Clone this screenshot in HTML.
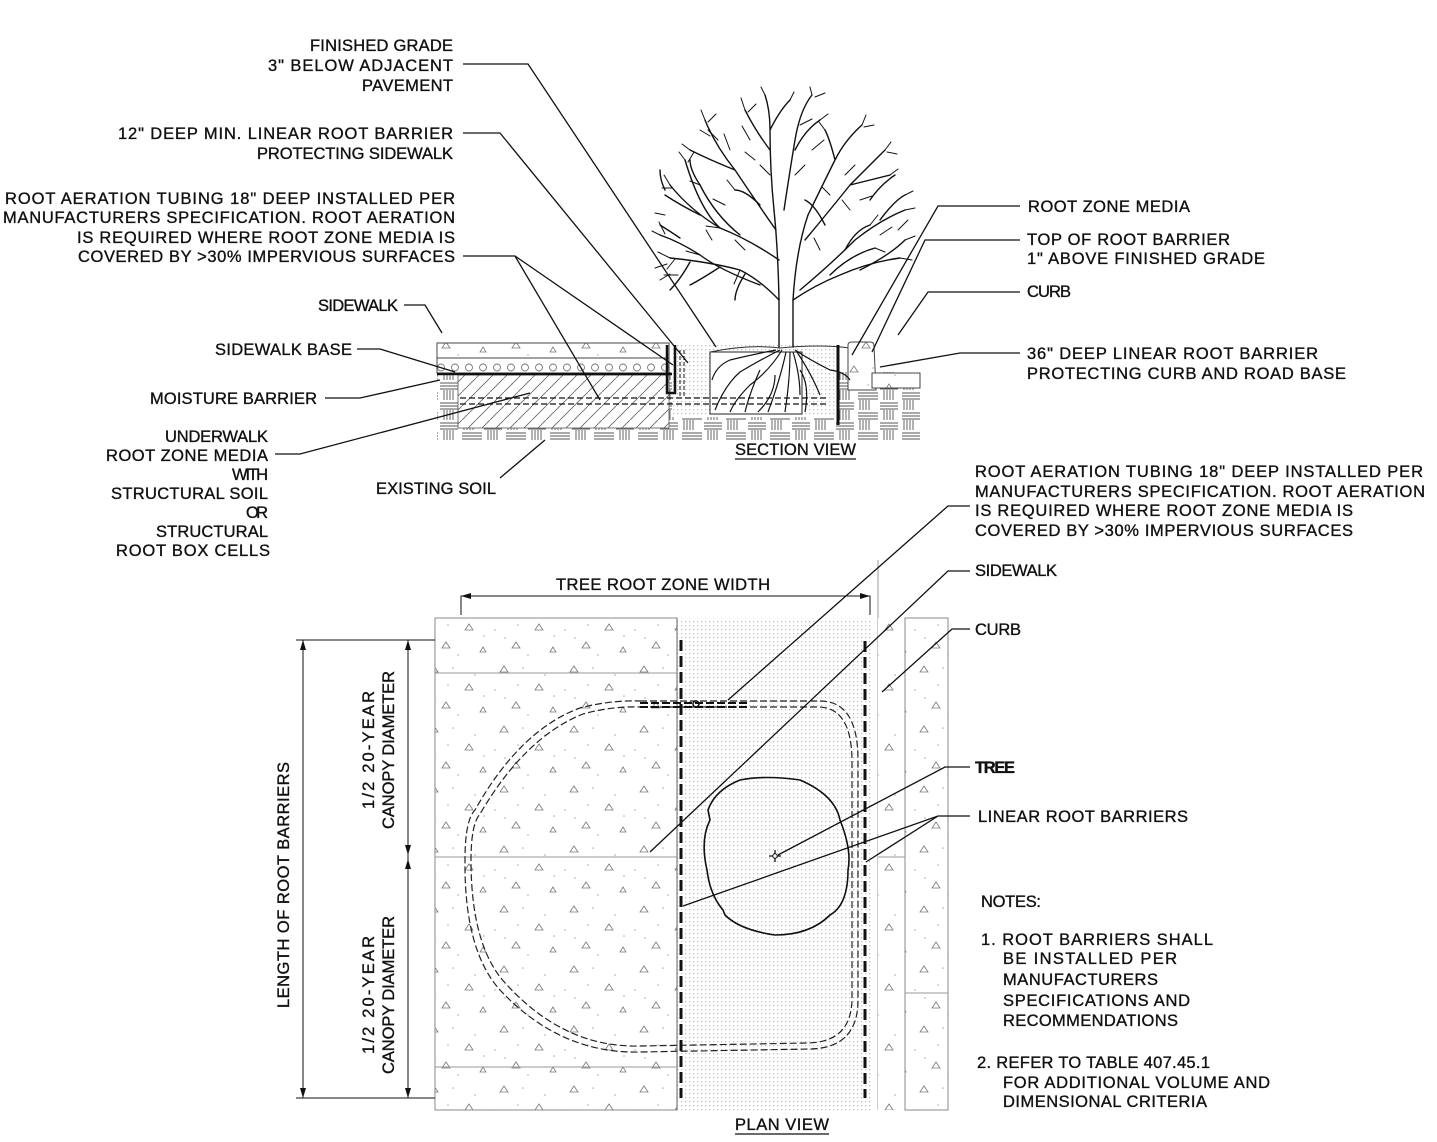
<!DOCTYPE html>
<html><head><meta charset="utf-8"><style>
html,body{margin:0;padding:0;background:#fff}
svg{display:block}
text{font-family:"Liberation Sans",sans-serif;font-size:16.5px;fill:#111;stroke:#111;stroke-width:0.35}
</style></head><body>
<svg width="1437" height="1142" viewBox="0 0 1437 1142" xmlns="http://www.w3.org/2000/svg">
<defs>
<pattern id="conc" width="70" height="60" patternUnits="userSpaceOnUse">
<rect width="70" height="60" fill="#fff"/>
<path d="M10 12l4 -6 4 6z M45 30l4 -6 4 6z M22 48l4 -6 4 6z M60 52l3 -5 3 5z" fill="none" stroke="#777" stroke-width="0.8"/>
<g fill="#aaa"><circle cx="5" cy="30" r="0.8"/><circle cx="33" cy="8" r="0.8"/><circle cx="55" cy="15" r="0.8"/><circle cx="38" cy="55" r="0.8"/><circle cx="15" cy="38" r="0.8"/><circle cx="64" cy="36" r="0.8"/><circle cx="28" cy="25" r="0.8"/></g>
</pattern>
<pattern id="dots" width="4" height="4" patternUnits="userSpaceOnUse">
<rect width="4" height="4" fill="#fff"/><rect x="1" y="1" width="1.2" height="1.2" fill="#bbb"/>
</pattern>
<pattern id="brick" width="44" height="20" patternUnits="userSpaceOnUse">
<rect width="44" height="20" fill="#fff"/>
<g stroke="#555" stroke-width="0.9" fill="none">
<path d="M0 3h18M0 6h18M0 9h18M24 0v10M27 0v10M30 0v10M33 0v10"/>
<path d="M22 13h20M22 16h20M22 19h20M4 10v10M7 10v10M10 10v10M13 10v10"/>
</g>
</pattern>
<pattern id="hatch" width="14" height="14" patternUnits="userSpaceOnUse">
<rect width="14" height="14" fill="#fff"/><path d="M0 14L14 0" stroke="#666" stroke-width="0.8"/>
</pattern>
<pattern id="gravel" width="14" height="15" patternUnits="userSpaceOnUse">
<rect width="14" height="15" fill="#fff"/><circle cx="7" cy="7.5" r="3.5" fill="none" stroke="#777" stroke-width="0.9"/>
</pattern>
</defs>

<!-- ============ SECTION VIEW ============ -->
<rect x="437" y="372" width="483" height="68" fill="url(#brick)"/>
<rect x="458" y="375" width="211" height="53" fill="url(#hatch)" stroke="#555" stroke-width="0.8"/>
<rect x="437" y="343" width="232" height="15" fill="url(#conc)" stroke="#444" stroke-width="1"/>
<rect x="437" y="358" width="232" height="15" fill="url(#gravel)" stroke="#444" stroke-width="1"/>
<line x1="437" y1="374" x2="672" y2="374" stroke="#111" stroke-width="2.5"/>
<rect x="672" y="345" width="138" height="72" fill="url(#dots)"/>
<rect x="810" y="345" width="28" height="72" fill="url(#dots)"/>
<rect x="710" y="352" width="92" height="62" fill="#fff" stroke="#222" stroke-width="1"/>
<path d="M710 352 Q750 344 780 348 Q820 344 850 348" fill="none" stroke="#333" stroke-width="1"/>
<path d="M667 345v48h8v-48" fill="none" stroke="#111" stroke-width="2.5"/>
<line x1="680" y1="350" x2="680" y2="398" stroke="#111" stroke-width="1" stroke-dasharray="4 2"/>
<line x1="684" y1="350" x2="684" y2="398" stroke="#111" stroke-width="1" stroke-dasharray="4 2"/>
<line x1="460" y1="398" x2="826" y2="398" stroke="#111" stroke-width="1.3" stroke-dasharray="6 3"/>
<line x1="460" y1="404" x2="826" y2="404" stroke="#111" stroke-width="1.3" stroke-dasharray="6 3"/>
<line x1="838" y1="345" x2="838" y2="425" stroke="#111" stroke-width="3"/>
<path d="M848 390 V345 Q848 342 852 342 H870 Q874 342 874 346 L876 390 Z" fill="url(#conc)" stroke="#444" stroke-width="1"/>
<rect x="872" y="373" width="48" height="15" fill="url(#conc)" stroke="#444" stroke-width="1"/>
<g stroke="#111" stroke-width="1.2" fill="none">
<path d="M780 350 Q760 360 740 372 Q725 385 715 410"/>
<path d="M782 350 Q770 370 750 385 Q735 400 730 412"/>
<path d="M786 352 Q780 380 768 412"/>
<path d="M790 352 Q790 380 785 412"/>
<path d="M793 352 Q800 375 800 395"/>
<path d="M795 350 Q810 360 830 370 Q845 372 850 380"/>
<path d="M797 352 Q812 375 820 395"/>
<path d="M776 350 Q750 355 730 360 Q716 366 712 380"/>
<path d="M760 370 Q750 392 745 412"/>
<path d="M775 375 Q775 395 758 412"/>
<path d="M800 370 Q810 385 805 412"/>
</g>
<!-- tree -->
<g stroke="#111" stroke-width="1.4" fill="none" stroke-linecap="round">
<path d="M779 347 V300 Q778 250 774 210 M793 347 V300 Q796 250 808 215"/>
<path d="M779 300 Q760 280 740 270 Q710 262 670 258"/>
<path d="M760 285 Q720 270 700 255 Q680 242 660 235"/>
<path d="M779 260 Q750 240 720 228 Q690 210 670 185"/>
<path d="M740 235 Q715 215 700 185 M700 215 Q680 205 665 195 M720 228 Q700 210 685 160"/>
<path d="M776 230 Q755 200 735 170 Q715 145 705 120 M735 170 Q710 160 690 150"/>
<path d="M774 210 Q770 170 770 130 Q770 110 765 95 M770 150 Q755 130 745 110 M770 130 Q780 110 790 100"/>
<path d="M784 210 Q790 170 795 140 Q800 110 812 95 M795 150 Q805 130 820 120"/>
<path d="M793 300 Q815 285 840 275 Q870 262 900 258"/>
<path d="M800 290 Q830 265 855 240 Q880 220 905 210"/>
<path d="M805 240 Q830 210 850 185 Q870 165 885 150 M850 185 Q870 180 890 175"/>
<path d="M808 215 Q825 180 835 160 Q845 140 862 125 M835 160 Q830 140 825 130"/>
<path d="M830 275 Q850 255 875 248 M860 270 Q890 255 905 240"/>
<path d="M690 262 Q680 280 670 290 M720 267 Q700 280 690 285 M745 274 Q735 290 735 300"/>
<path d="M680 238 Q668 230 660 225 M665 190 Q660 180 660 170 M700 185 Q690 170 690 160"/>
<path d="M845 250 Q855 230 870 225 M880 220 Q895 200 905 195 M870 200 Q880 185 895 175"/>
<path d="M825 225 Q815 205 805 200 M760 205 Q745 190 735 190"/>
</g>
<g stroke="#111" stroke-width="1" fill="none" stroke-linecap="round">
<path d="M670 258l-12 -6M675 259l-8 10M660 235l-8 -4M665 234l-6 -12M670 185l-6 -10M672 188l-10 0M685 160l-6 -8M688 162l6 -10M690 150l-8 -6M705 120l-4 -10M708 122l8 -8M745 110l-4 -12M748 112l8 -8M765 95l-4 -8M790 100l4 -8M812 95l-2 -8M815 97l10 -4M820 120l8 -6M825 130l-6 -8M862 125l4 -10M864 127l10 -2M885 150l6 -8M887 152l10 2M890 175l8 -6M905 195l8 -4M905 210l10 -2M905 240l10 -4M900 258l12 2M875 248l10 4M870 225l8 -10M740 270l-6 14M700 255l-14 -4M720 228l-14 -2M735 190l-8 -10M700 185l-10 -4M655 268l12 -4M660 280l10 -6M700 130l10 6M718 140l-10 -10M730 150l-6 -16M750 140l-8 -14M755 160l-10 -8M800 125l12 -6M812 150l12 -10M845 175l10 -10M860 200l12 -4M880 235l12 -8M850 210l-8 -10M830 195l-8 -8M820 250l-6 -12M745 250l-10 -10M712 240l-6 -10M725 205l-12 -6M770 175l-10 -10M795 175l10 -10M898 230l10 -10M665 215l-10 -2M678 275l-14 0"/>
</g>

<!-- section leaders -->
<g stroke="#111" stroke-width="1.3" fill="none">
<path d="M463 64H528L716 347"/>
<path d="M463 133H500L688 363"/>
<path d="M463 256H515L600 400 M515 256L673 365"/>
<path d="M404 305H425L442 333"/>
<path d="M357 349H380L455 372"/>
<path d="M325 398H360L440 380"/>
<path d="M275 454H300L530 393"/>
<path d="M500 478L545 440"/>
<path d="M1020 206H938L852 355"/>
<path d="M1020 240H925L872 352"/>
<path d="M1020 292H928L898 335"/>
<path d="M1020 353H960L880 367"/>
</g>

<text x="310" y="51" textLength="143">FINISHED GRADE</text>
<text x="268" y="71" textLength="185">3" BELOW ADJACENT</text>
<text x="362" y="91" textLength="91">PAVEMENT</text>
<text x="118" y="139" textLength="335">12" DEEP MIN. LINEAR ROOT BARRIER</text>
<text x="257" y="159" textLength="196">PROTECTING SIDEWALK</text>
<text x="5" y="204" textLength="450">ROOT AERATION TUBING 18" DEEP INSTALLED PER</text>
<text x="3" y="223" textLength="452">MANUFACTURERS SPECIFICATION.  ROOT AERATION</text>
<text x="77" y="243" textLength="378">IS REQUIRED WHERE ROOT ZONE MEDIA IS</text>
<text x="78" y="262" textLength="377">COVERED BY &gt;30% IMPERVIOUS SURFACES</text>
<text x="318" y="311" textLength="80">SIDEWALK</text>
<text x="215" y="355" textLength="137">SIDEWALK BASE</text>
<text x="150" y="404" textLength="167">MOISTURE BARRIER</text>
<text x="165" y="442" textLength="103">UNDERWALK</text>
<text x="106" y="461" textLength="162">ROOT ZONE MEDIA</text>
<text x="232" y="480" textLength="36">WITH</text>
<text x="111" y="499" textLength="157">STRUCTURAL SOIL</text>
<text x="246" y="518" textLength="22">OR</text>
<text x="156" y="537" textLength="112">STRUCTURAL</text>
<text x="116" y="556" textLength="154">ROOT BOX CELLS</text>
<text x="376" y="494" textLength="120">EXISTING SOIL</text>
<text x="1028" y="212" textLength="162">ROOT ZONE MEDIA</text>
<text x="1027" y="245" textLength="203">TOP OF ROOT BARRIER</text>
<text x="1027" y="264" textLength="238">1" ABOVE FINISHED GRADE</text>
<text x="1027" y="297" textLength="44">CURB</text>
<text x="1027" y="359" textLength="291">36" DEEP LINEAR ROOT BARRIER</text>
<text x="1027" y="379" textLength="319">PROTECTING CURB AND ROAD BASE</text>
<text x="735" y="455" textLength="121">SECTION VIEW</text>
<line x1="735" y1="459" x2="856" y2="459" stroke="#111" stroke-width="1.3"/>

<!-- ============ PLAN VIEW ============ -->
<rect x="435" y="618" width="242" height="492" fill="url(#conc)" stroke="#888" stroke-width="1"/>
<rect x="677" y="618" width="195" height="492" fill="url(#dots)"/>
<line x1="677" y1="618" x2="677" y2="1110" stroke="#666" stroke-width="1"/>
<line x1="878" y1="560" x2="878" y2="1110" stroke="#bbb" stroke-width="1.5"/>
<rect x="878" y="618" width="20" height="492" fill="url(#conc)"/>
<rect x="905" y="618" width="43" height="492" fill="url(#conc)" stroke="#888" stroke-width="1"/>
<g stroke="#999" stroke-width="1">
<line x1="435" y1="673" x2="677" y2="673"/>
<line x1="435" y1="857" x2="677" y2="857"/>
<line x1="435" y1="1067" x2="677" y2="1067"/>
<line x1="878" y1="857" x2="905" y2="857"/>
<line x1="905" y1="993" x2="948" y2="993"/>
</g>
<path d="M640 701 H820 Q858 701 858 760 V1000 Q858 1048 810 1049 L640 1052 Q560 1054 500 990 Q464 950 465 860 Q465 820 475 810 Q520 730 580 708 Q610 700 640 701Z" fill="none" stroke="#222" stroke-width="1.2" stroke-dasharray="7 3"/>
<path d="M640 707 H818 Q852 707 852 762 V998 Q852 1042 808 1043 L640 1046 Q565 1048 507 985 Q471 948 471 860 Q471 824 480 814 Q525 737 583 714 Q612 706 640 707Z" fill="none" stroke="#222" stroke-width="1.2" stroke-dasharray="7 3"/>
<line x1="640" y1="703" x2="750" y2="703" stroke="#111" stroke-width="2" stroke-dasharray="8 3"/>
<line x1="640" y1="707" x2="750" y2="707" stroke="#111" stroke-width="2" stroke-dasharray="8 3"/>
<circle cx="696" cy="704" r="3" fill="none" stroke="#111" stroke-width="1.5"/>
<line x1="681" y1="640" x2="681" y2="1098" stroke="#111" stroke-width="3" stroke-dasharray="11 5"/>
<line x1="865" y1="641" x2="865" y2="1098" stroke="#111" stroke-width="3" stroke-dasharray="11 5"/>
<path d="M740 780 Q765 775 800 780 Q835 795 840 820 Q852 850 848 870 Q848 905 830 915 Q810 935 775 935 Q740 930 725 915 L723 910 Q710 895 707 870 Q700 840 710 820 L708 810 Q715 790 740 780Z" fill="none" stroke="#111" stroke-width="1.6"/>
<path d="M775 850V862M769 856H781" stroke="#111" stroke-width="1.3"/>
<circle cx="775" cy="856" r="2.2" fill="#fff" stroke="#111" stroke-width="1"/>
<g stroke="#111" stroke-width="1.3" fill="none">
<path d="M970 506H948L728 700"/>
<path d="M970 571H948L650 852"/>
<path d="M970 629H952L882 692"/>
<path d="M970 767H945L778 855"/>
<path d="M970 816H938L683 906 M938 816L866 862"/>
</g>
<g stroke="#111" stroke-width="1" fill="none">
<path d="M461 615V596H870V615"/>
<path d="M303 640V1098 M408 640V1098 M296 640H435 M296 1098H435"/>
</g>
<g fill="#111">
<path d="M461 596l10 -3v6z M870 596l-10 -3v6z"/>
<path d="M303 640l-3 10h6z M303 1098l-3 -10h6z M408 640l-3 10h6z M408 1098l-3 -10h6z M408 855l-3 -10h6z M408 859l-3 10h6z"/>
</g>
<text x="556" y="590" textLength="214">TREE ROOT ZONE WIDTH</text>
<text transform="translate(289,885) rotate(-90)" text-anchor="middle" textLength="246">LENGTH OF ROOT BARRIERS</text>
<text transform="translate(374,750) rotate(-90)" text-anchor="middle" textLength="118">1/2 20-YEAR</text>
<text transform="translate(394,750) rotate(-90)" text-anchor="middle" textLength="158">CANOPY DIAMETER</text>
<text transform="translate(374,995) rotate(-90)" text-anchor="middle" textLength="118">1/2 20-YEAR</text>
<text transform="translate(394,995) rotate(-90)" text-anchor="middle" textLength="158">CANOPY DIAMETER</text>
<text x="975" y="477" textLength="448">ROOT AERATION TUBING 18" DEEP INSTALLED PER</text>
<text x="975" y="497" textLength="450">MANUFACTURERS SPECIFICATION.  ROOT AERATION</text>
<text x="975" y="516" textLength="378">IS REQUIRED WHERE ROOT ZONE MEDIA IS</text>
<text x="975" y="536" textLength="378">COVERED BY &gt;30% IMPERVIOUS SURFACES</text>
<text x="975" y="576" textLength="82">SIDEWALK</text>
<text x="975" y="635" textLength="46">CURB</text>
<text x="975" y="773" textLength="40" font-weight="bold">TREE</text>
<text x="978" y="822" textLength="210">LINEAR ROOT BARRIERS</text>
<text x="981" y="907" textLength="60">NOTES:</text>
<text x="981" y="945" textLength="232">1. ROOT BARRIERS SHALL</text>
<text x="1003" y="964" textLength="174">BE INSTALLED PER</text>
<text x="1003" y="985" textLength="155">MANUFACTURERS</text>
<text x="1003" y="1006" textLength="187">SPECIFICATIONS AND</text>
<text x="1003" y="1026" textLength="175">RECOMMENDATIONS</text>
<text x="977" y="1068" textLength="233">2. REFER TO TABLE 407.45.1</text>
<text x="1003" y="1088" textLength="267">FOR ADDITIONAL VOLUME AND</text>
<text x="1003" y="1107" textLength="204">DIMENSIONAL CRITERIA</text>
<text x="735" y="1130" textLength="94">PLAN VIEW</text>
<line x1="735" y1="1134" x2="829" y2="1134" stroke="#111" stroke-width="1.3"/>
</svg>
</body></html>
